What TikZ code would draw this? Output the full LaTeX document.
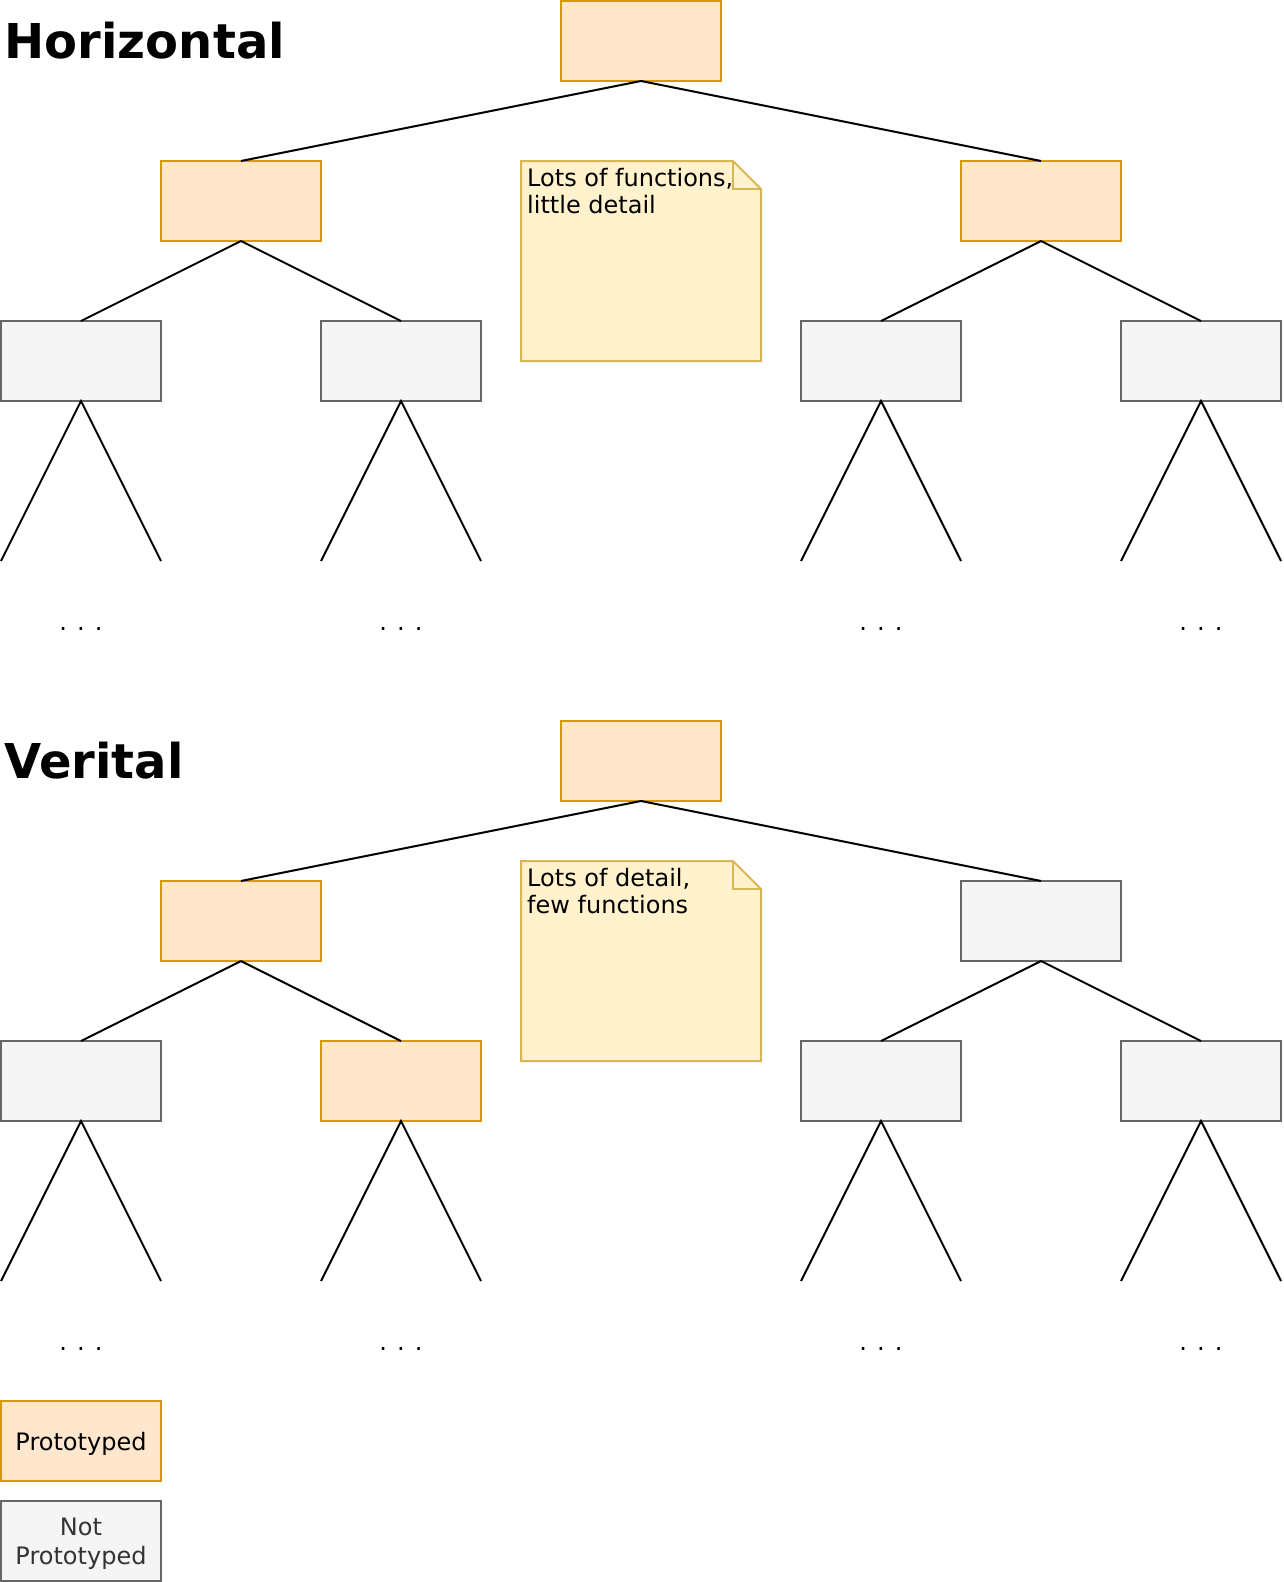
\documentclass[tikz,border=0pt]{standalone}
\usepackage{fontspec}
\setmainfont{DejaVu Sans}
\definecolor{protoF}{HTML}{FFE6CC}
\definecolor{protoD}{HTML}{D79B00}
\definecolor{grayF}{HTML}{F5F5F5}
\definecolor{grayD}{HTML}{666666}
\definecolor{noteF}{HTML}{FFF2CC}
\definecolor{noteD}{HTML}{D6B656}
\definecolor{txtgray}{HTML}{333333}
\tikzset{
  box/.style={minimum width=160pt, minimum height=80pt, inner sep=0pt, outer sep=0pt, line width=2pt, anchor=north west},
  proto/.style={box, draw=protoD, fill=protoF},
  notp/.style={box, draw=grayD, fill=grayF},
  link/.style={line width=2pt, draw=black},
  notebox/.style={line width=2pt, draw=noteD, fill=noteF, line join=miter},
  txt/.style={font=\fontsize{24}{27.6}\selectfont, inner sep=0pt, anchor=base west},
  dotstxt/.style={font=\fontsize{24}{27.6}\selectfont, inner sep=0pt, anchor=base},
  ttl/.style={font=\fontsize{48}{55}\selectfont\bfseries, inner sep=0pt, anchor=base west},
}
\begin{document}
\begin{tikzpicture}[x=1pt, y=-1pt]
\useasboundingbox (0,0) rectangle (1284,1582);

% ---------------- Horizontal ----------------
\node[ttl] (titleH) at (4.5,58) {Horizontal};

\coordinate (c1l) at (1,561);    \coordinate (c1r) at (161,561);
\coordinate (d1l) at (321,561);  \coordinate (d1r) at (481,561);
\coordinate (e1l) at (801,561);  \coordinate (e1r) at (961,561);
\coordinate (f1l) at (1121,561); \coordinate (f1r) at (1281,561);

\node[proto] (T1) at (561,1) {};
\node[proto] (A1) at (161,161) {};
\node[proto] (B1) at (961,161) {};
\node[notp] (C1) at (1,321) {};
\node[notp] (D1) at (321,321) {};
\node[notp] (E1) at (801,321) {};
\node[notp] (F1) at (1121,321) {};

\draw[link] (T1.south) -- (A1.north);
\draw[link] (T1.south) -- (B1.north);
\draw[link] (A1.south) -- (C1.north);
\draw[link] (A1.south) -- (D1.north);
\draw[link] (B1.south) -- (E1.north);
\draw[link] (B1.south) -- (F1.north);
\draw[link] (c1l) -- (C1.south) -- (c1r);
\draw[link] (d1l) -- (D1.south) -- (d1r);
\draw[link] (e1l) -- (E1.south) -- (e1r);
\draw[link] (f1l) -- (F1.south) -- (f1r);

\node[dotstxt] (dc1) at (81,630) {. . .};
\node[dotstxt] (dd1) at (401,630) {. . .};
\node[dotstxt] (de1) at (881,630) {. . .};
\node[dotstxt] (df1) at (1201,630) {. . .};

\path[notebox] (521,161) -- (733,161) -- (761,189) -- (761,361) -- (521,361) -- cycle;
\path[notebox, fill=none] (733,161) -- (733,189) -- (761,189);
\node[txt] (n1a) at (527,186) {Lots of functions,};
\node[txt] (n1b) at (527,213.6) {little detail};

% ---------------- Verital ----------------
\node[ttl] (titleV) at (4.5,778) {Verital};

\coordinate (c2l) at (1,1281);    \coordinate (c2r) at (161,1281);
\coordinate (d2l) at (321,1281);  \coordinate (d2r) at (481,1281);
\coordinate (e2l) at (801,1281);  \coordinate (e2r) at (961,1281);
\coordinate (f2l) at (1121,1281); \coordinate (f2r) at (1281,1281);

\node[proto] (T2) at (561,721) {};
\node[proto] (A2) at (161,881) {};
\node[notp] (B2) at (961,881) {};
\node[notp] (C2) at (1,1041) {};
\node[proto] (D2) at (321,1041) {};
\node[notp] (E2) at (801,1041) {};
\node[notp] (F2) at (1121,1041) {};

\draw[link] (T2.south) -- (A2.north);
\draw[link] (T2.south) -- (B2.north);
\draw[link] (A2.south) -- (C2.north);
\draw[link] (A2.south) -- (D2.north);
\draw[link] (B2.south) -- (E2.north);
\draw[link] (B2.south) -- (F2.north);
\draw[link] (c2l) -- (C2.south) -- (c2r);
\draw[link] (d2l) -- (D2.south) -- (d2r);
\draw[link] (e2l) -- (E2.south) -- (e2r);
\draw[link] (f2l) -- (F2.south) -- (f2r);

\node[dotstxt] (dc2) at (81,1350) {. . .};
\node[dotstxt] (dd2) at (401,1350) {. . .};
\node[dotstxt] (de2) at (881,1350) {. . .};
\node[dotstxt] (df2) at (1201,1350) {. . .};

\path[notebox] (521,861) -- (733,861) -- (761,889) -- (761,1061) -- (521,1061) -- cycle;
\path[notebox, fill=none] (733,861) -- (733,889) -- (761,889);
\node[txt] (n2a) at (527,886) {Lots of detail,};
\node[txt] (n2b) at (527,913.6) {few functions};

% ---------------- Legend ----------------
\node[proto] (LP) at (1,1401) {};
\node[notp] (LN) at (1,1501) {};
\node[dotstxt] (lpt) at (81,1450) {Prototyped};
\node[dotstxt, text=txtgray] (lnt1) at (81,1535.5) {Not};
\node[dotstxt, text=txtgray] (lnt2) at (81,1564) {Prototyped};
\end{tikzpicture}
\end{document}
